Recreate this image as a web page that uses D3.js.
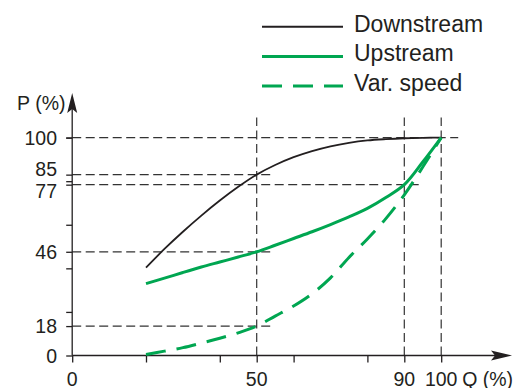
<!DOCTYPE html>
<html><head><meta charset="utf-8">
<script src="https://cdn.jsdelivr.net/npm/d3@7"></script>
<style>html,body{margin:0;padding:0;background:#fff;} svg{display:block;font-family:"Liberation Sans",Arial,sans-serif;}</style>
</head><body><svg id="chart" width="513" height="388"></svg>
<script>
// ---- data ----
const flowQ      = [20,25,30,35,40,45,50,55,60,65,70,75,80,85,90,95,100];
const downstream = [40.3,48.9,56.8,64.2,71.1,77.4,83.0,87.4,91.0,93.8,96.0,97.6,98.7,99.3,99.7,99.9,100];
const upstream   = [33.0,35.5,38.1,40.6,42.9,45.2,47.6,50.6,53.7,56.8,60.1,63.6,67.5,72.5,78.4,88.8,100];
const varSpeed   = [0.5,2.0,3.6,5.7,7.9,10.4,13.5,18.1,22.7,28.3,35.6,45.0,53.5,62.8,73.7,86.5,100];
const seriesNames = ["Downstream","Upstream","Var. speed"];
const guideLabels = ["100","85","77","46","18"];
const guideSeries = ["Downstream","Downstream","Upstream","Upstream","Var. speed"];
const guideQ      = [100,50,90,50,50];
const markerQ     = [50,90,100];
const xTickValues = [0,20,40,50,60,80,90,100];
const xLabelValues = [0,50,90,100];
const yTickValues = [0,20,40,60,80,100];
const yZeroLabel = "0";
const xTitle = "Q (%)", yTitle = "P (%)";

// ---- setup ----
const svg = d3.select("#chart");
svg.append("rect").attr("width",513).attr("height",388).attr("fill","#fff");
const x = d3.scaleLinear().domain([0,100]).range([72.2,441.2]);
const y = d3.scaleLinear().domain([0,100]).range([355.5,137.6]);
const ink = "#231f20", green = "#00a651", guideInk = "#333";
const values = {"Downstream":downstream,"Upstream":upstream,"Var. speed":varSpeed};
const style = {
  "Downstream":{color:ink,width:1.8,dash:null},
  "Upstream":{color:green,width:3,dash:null},
  "Var. speed":{color:green,width:3,dash:"20,11"}
};
const valAt = (name,q) => values[name][flowQ.indexOf(q)];
const guides = guideLabels.map((l,i)=>({label:l, q:guideQ[i], v:valAt(guideSeries[i],guideQ[i])}));

// ---- guide lines ----
svg.append("g").selectAll("line").data(guides).join("line")
  .attr("x1",x(0)).attr("x2",d=>x(d.q)+17)
  .attr("y1",d=>y(d.v)).attr("y2",d=>y(d.v))
  .attr("stroke",guideInk).attr("stroke-width",1.2).attr("stroke-dasharray","9,4.5");
svg.append("g").selectAll("line").data(markerQ).join("line")
  .attr("x1",d=>x(d)).attr("x2",d=>x(d))
  .attr("y1",y(0)).attr("y2",y(100)-20)
  .attr("stroke",guideInk).attr("stroke-width",1.2).attr("stroke-dasharray","9,4.5");

// ---- axes ----
const yAxis = d3.axisLeft(y).tickValues(yTickValues.concat(guides.map(g=>g.v))).tickSize(6).tickFormat("");
const gy = svg.append("g").attr("transform",`translate(${x(0)},0)`).call(yAxis);
gy.select(".domain").remove();
gy.selectAll("line").attr("stroke",ink).attr("stroke-width",1.3);
const xAxis = d3.axisBottom(x).tickValues(xTickValues).tickSize(7).tickFormat("");
const gx = svg.append("g").attr("transform",`translate(0,${y(0)})`).call(xAxis);
gx.select(".domain").remove();
gx.selectAll("line").attr("stroke",ink).attr("stroke-width",1.3);

svg.append("line").attr("x1",x(0)).attr("x2",x(0)).attr("y1",y(0)).attr("y2",108)
  .attr("stroke",ink).attr("stroke-width",1.3);
svg.append("line").attr("x1",x(0)).attr("x2",496).attr("y1",y(0)).attr("y2",y(0))
  .attr("stroke",ink).attr("stroke-width",1.3);
svg.append("path").attr("d","M0,0L5,20L0,16L-5,20Z").attr("fill",ink)
  .attr("transform",`translate(${x(0)},93)`);
svg.append("path").attr("d","M0,0L-21,-5L-17,0L-21,5Z").attr("fill",ink)
  .attr("transform",`translate(512,${y(0)})`);

// ---- axis labels ----
const fs = 19.5;
let yLabs = [{label:yZeroLabel, cy:y(0)}].concat(guides.map(g=>({label:g.label, cy:y(g.v)})));
yLabs.sort((a,b)=>a.cy-b.cy);
for (let i=1;i<yLabs.length;i++){
  const gap = yLabs[i].cy - yLabs[i-1].cy, need = 22;
  if (gap < need){ const d=(need-gap)/2; yLabs[i-1].cy -= d; yLabs[i].cy += d; }
}
svg.append("g").selectAll("text").data(yLabs).join("text")
  .attr("x",57).attr("y",d=>d.cy+fs*0.36).attr("text-anchor","end")
  .attr("font-size",fs).attr("fill",ink).text(d=>d.label);
svg.append("g").selectAll("text").data(xLabelValues).join("text")
  .attr("x",d=>x(d)).attr("y",385.5).attr("text-anchor","middle")
  .attr("font-size",fs).attr("fill",ink).text(d=>d);
svg.append("text").attr("x",x(100)+21).attr("y",385.5).attr("font-size",fs).attr("fill",ink).text(xTitle);
svg.append("text").attr("x",65.5).attr("y",109.5).attr("text-anchor","end").attr("font-size",fs).attr("fill",ink).text(yTitle);

// ---- curves ----
const line = d3.line().x((d,i)=>x(flowQ[i])).y(d=>y(d)).curve(d3.curveCatmullRom.alpha(0.5));
svg.append("g").selectAll("path").data(seriesNames).join("path")
  .attr("d",n=>line(values[n])).attr("fill","none")
  .attr("stroke",n=>style[n].color).attr("stroke-width",n=>style[n].width)
  .attr("stroke-dasharray",n=>style[n].dash);

// ---- legend ----
const lg = svg.append("g").selectAll("g").data(seriesNames).join("g")
  .attr("transform",(d,i)=>`translate(262,${26.7+i*29.7})`);
lg.append("line").attr("x1",0).attr("x2",81).attr("y1",0).attr("y2",0)
  .attr("stroke",n=>style[n].color).attr("stroke-width",n=>n==="Downstream"?2:3)
  .attr("stroke-dasharray",n=>style[n].dash);
lg.append("text").attr("x",92).attr("y",5).attr("font-size",23).attr("fill",ink).text(n=>n);
</script></body></html>
